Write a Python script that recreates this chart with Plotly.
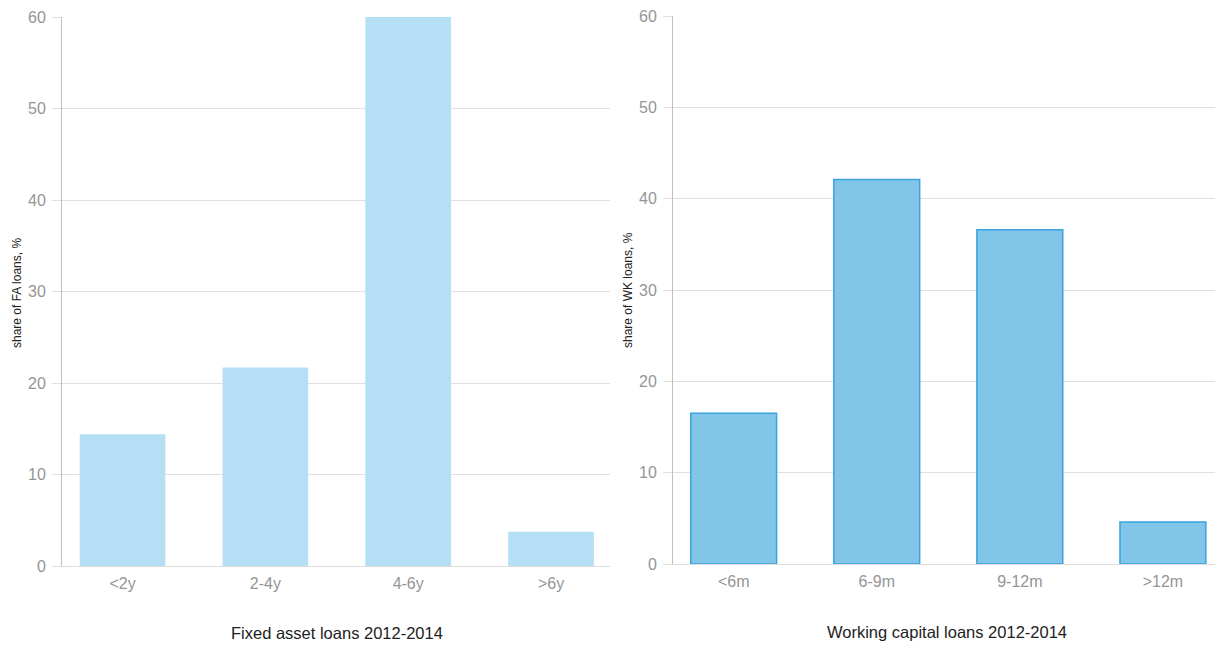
import plotly.graph_objects as go
from plotly.subplots import make_subplots

# Fixed asset loans, share by maturity
fa_labels = ['<2y', '2-4y', '4-6y', '>6y']
fa_values = [14.4, 21.7, 60.4, 3.75]

# Working capital loans, share by maturity
wk_labels = ['<6m', '6-9m', '9-12m', '>12m']
wk_values = [16.5, 42.1, 36.6, 4.6]

y_ticks = [0, 10, 20, 30, 40, 50, 60]

# page body has an 8px margin, so the figure starts 8px in from the window edge
W, H = 1215, 639
OFF = 8
font_family = 'Arial, Liberation Sans, sans-serif'
tick_color = '#959595'
grid_color = '#e0e0e0'
axis_color = '#c0c0c0'


def px_x(v):
    return min(1.0, (v - OFF) / W)


def px_y(v):
    return (H - (v - OFF)) / H


fig = make_subplots(rows=1, cols=2)

fig.add_trace(go.Bar(
    x=fa_labels, y=fa_values, width=0.6,
    marker=dict(color='#b5dff4', line=dict(width=0)),
    showlegend=False,
), row=1, col=1)

fig.add_trace(go.Bar(
    x=wk_labels, y=wk_values, width=0.6,
    marker=dict(color='#81c6e9', line=dict(color='#3aa2dc', width=1.5)),
    showlegend=False,
), row=1, col=2)

fig.update_xaxes(
    showgrid=False, ticks='', showline=True, linecolor='#dddddd',
    linewidth=1, tickfont=dict(color=tick_color, size=16, family=font_family),
    ticklabelstandoff=3, automargin=False,
)
fig.update_yaxes(
    tickvals=y_ticks, showgrid=True, gridcolor=grid_color,
    gridwidth=1, showline=True, linecolor=axis_color, linewidth=1,
    ticks='outside', ticklen=9, tickcolor=grid_color, zeroline=False,
    tickfont=dict(color=tick_color, size=16, family=font_family),
    ticklabelstandoff=3, ticklabeloverflow='allow', automargin=False,
)

fig.update_layout(
    xaxis=dict(domain=[px_x(62), px_x(610)], range=[-0.424, 3.413]),
    xaxis2=dict(domain=[px_x(673), px_x(1222)], range=[-0.424, 3.413]),
    yaxis=dict(domain=[px_y(566), px_y(17)], range=[0, 60]),
    yaxis2=dict(domain=[px_y(564), px_y(16)], range=[0, 60]),
    width=W, height=H,
    margin=dict(l=0, r=0, t=0, b=0),
    paper_bgcolor='white', plot_bgcolor='white',
    font=dict(family=font_family, color='#222222'),
    annotations=[
        dict(text='share of FA loans, %', textangle=-90, x=px_x(17), y=px_y(293),
             xanchor='center', yanchor='middle',
             xref='paper', yref='paper', showarrow=False, font=dict(size=12, color='#222222')),
        dict(text='share of WK loans, %', textangle=-90, x=px_x(628), y=px_y(290),
             xanchor='center', yanchor='middle',
             xref='paper', yref='paper', showarrow=False, font=dict(size=12, color='#222222')),
        dict(text='Fixed asset loans 2012-2014', x=px_x(337), y=px_y(633),
             xanchor='center', yanchor='middle',
             xref='paper', yref='paper', showarrow=False, font=dict(size=16.5, color='#222222')),
        dict(text='Working capital loans 2012-2014', x=px_x(947), y=px_y(632),
             xanchor='center', yanchor='middle',
             xref='paper', yref='paper', showarrow=False, font=dict(size=16.5, color='#222222')),
    ],
)

fig.write_html("out.html")
